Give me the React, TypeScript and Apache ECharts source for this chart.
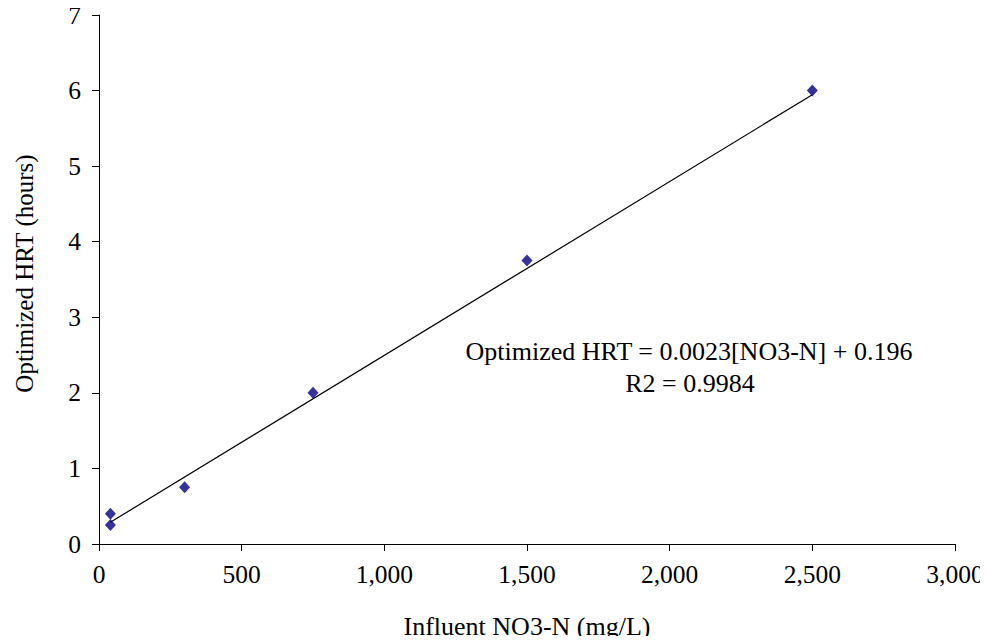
import React, { useEffect, useRef } from "react";
import * as echarts from "echarts";

const influentNO3N = [40, 40, 300, 750, 1500, 2500];
const optimizedHRT = [0.25, 0.4, 0.75, 2.0, 3.75, 6.0];
const trendX = [40, 2500];
const trendY = [0.288, 5.946];
const equationLines = ["Optimized HRT = 0.0023[NO3-N] + 0.196", "R2 = 0.9984"];

export default function App() {
  const ref = useRef<HTMLDivElement>(null);
  useEffect(() => {
    if (!ref.current) return;
    const chart = echarts.init(ref.current, undefined, { renderer: "svg" });
    const font = "'Liberation Serif', 'Times New Roman', serif";
    const fs = 26;
    chart.setOption({
      animation: false,
      backgroundColor: "#ffffff",
      textStyle: { fontFamily: font },
      grid: { left: 99, right: 33, top: 15, bottom: 100, containLabel: false },
      xAxis: {
        type: "value",
        min: 0,
        max: 3000,
        interval: 500,
        name: "Influent NO3-N (mg/L)",
        nameLocation: "middle",
        nameGap: 69,
        nameTextStyle: { fontFamily: font, fontSize: fs, color: "#000" },
        axisLine: { onZero: false, lineStyle: { color: "#000", width: 1 } },
        axisTick: { show: true, inside: false, length: 7, lineStyle: { color: "#000" } },
        axisLabel: {
          fontFamily: font,
          fontSize: 25.5,
          color: "#000",
          margin: 17,
          formatter: (v: number) => v.toLocaleString("en-US"),
        },
        splitLine: { show: false },
      },
      yAxis: {
        type: "value",
        min: 0,
        max: 7,
        interval: 1,
        name: "Optimized HRT (hours)",
        nameLocation: "middle",
        nameGap: 62,
        nameTextStyle: { fontFamily: font, fontSize: 25, color: "#000", padding: [0, 0, 0, 12] },
        axisLine: { show: true, onZero: false, lineStyle: { color: "#000", width: 1 } },
        axisTick: { show: true, inside: false, length: 7, lineStyle: { color: "#000" } },
        axisLabel: { fontFamily: font, fontSize: 25.5, color: "#000", margin: 18 },
        splitLine: { show: false },
      },
      series: [
        {
          type: "line",
          data: trendX.map((x, i) => [x, trendY[i]]),
          showSymbol: false,
          symbol: "none",
          lineStyle: { color: "#000", width: 1.2 },
          z: 1,
          silent: true,
        },
        {
          type: "scatter",
          data: influentNO3N.map((x, i) => [x, optimizedHRT[i]]),
          symbol: "diamond",
          symbolSize: [11, 12],
          itemStyle: { color: "#000080" },
          z: 3,
        },
      ],
      graphic: [
        {
          type: "text",
          x: 689,
          y: 351,
          style: {
            text: equationLines[0],
            fontFamily: font,
            fontSize: fs,
            fill: "#000",
            align: "center",
            verticalAlign: "middle",
          },
        },
        {
          type: "text",
          x: 690,
          y: 383,
          style: {
            text: equationLines[1],
            fontFamily: font,
            fontSize: fs,
            fill: "#000",
            align: "center",
            verticalAlign: "middle",
          },
        },
      ],
    });
    return () => chart.dispose();
  }, []);
  return <div ref={ref} style={{ width: 988, height: 644, margin: -8 }} />;
}
